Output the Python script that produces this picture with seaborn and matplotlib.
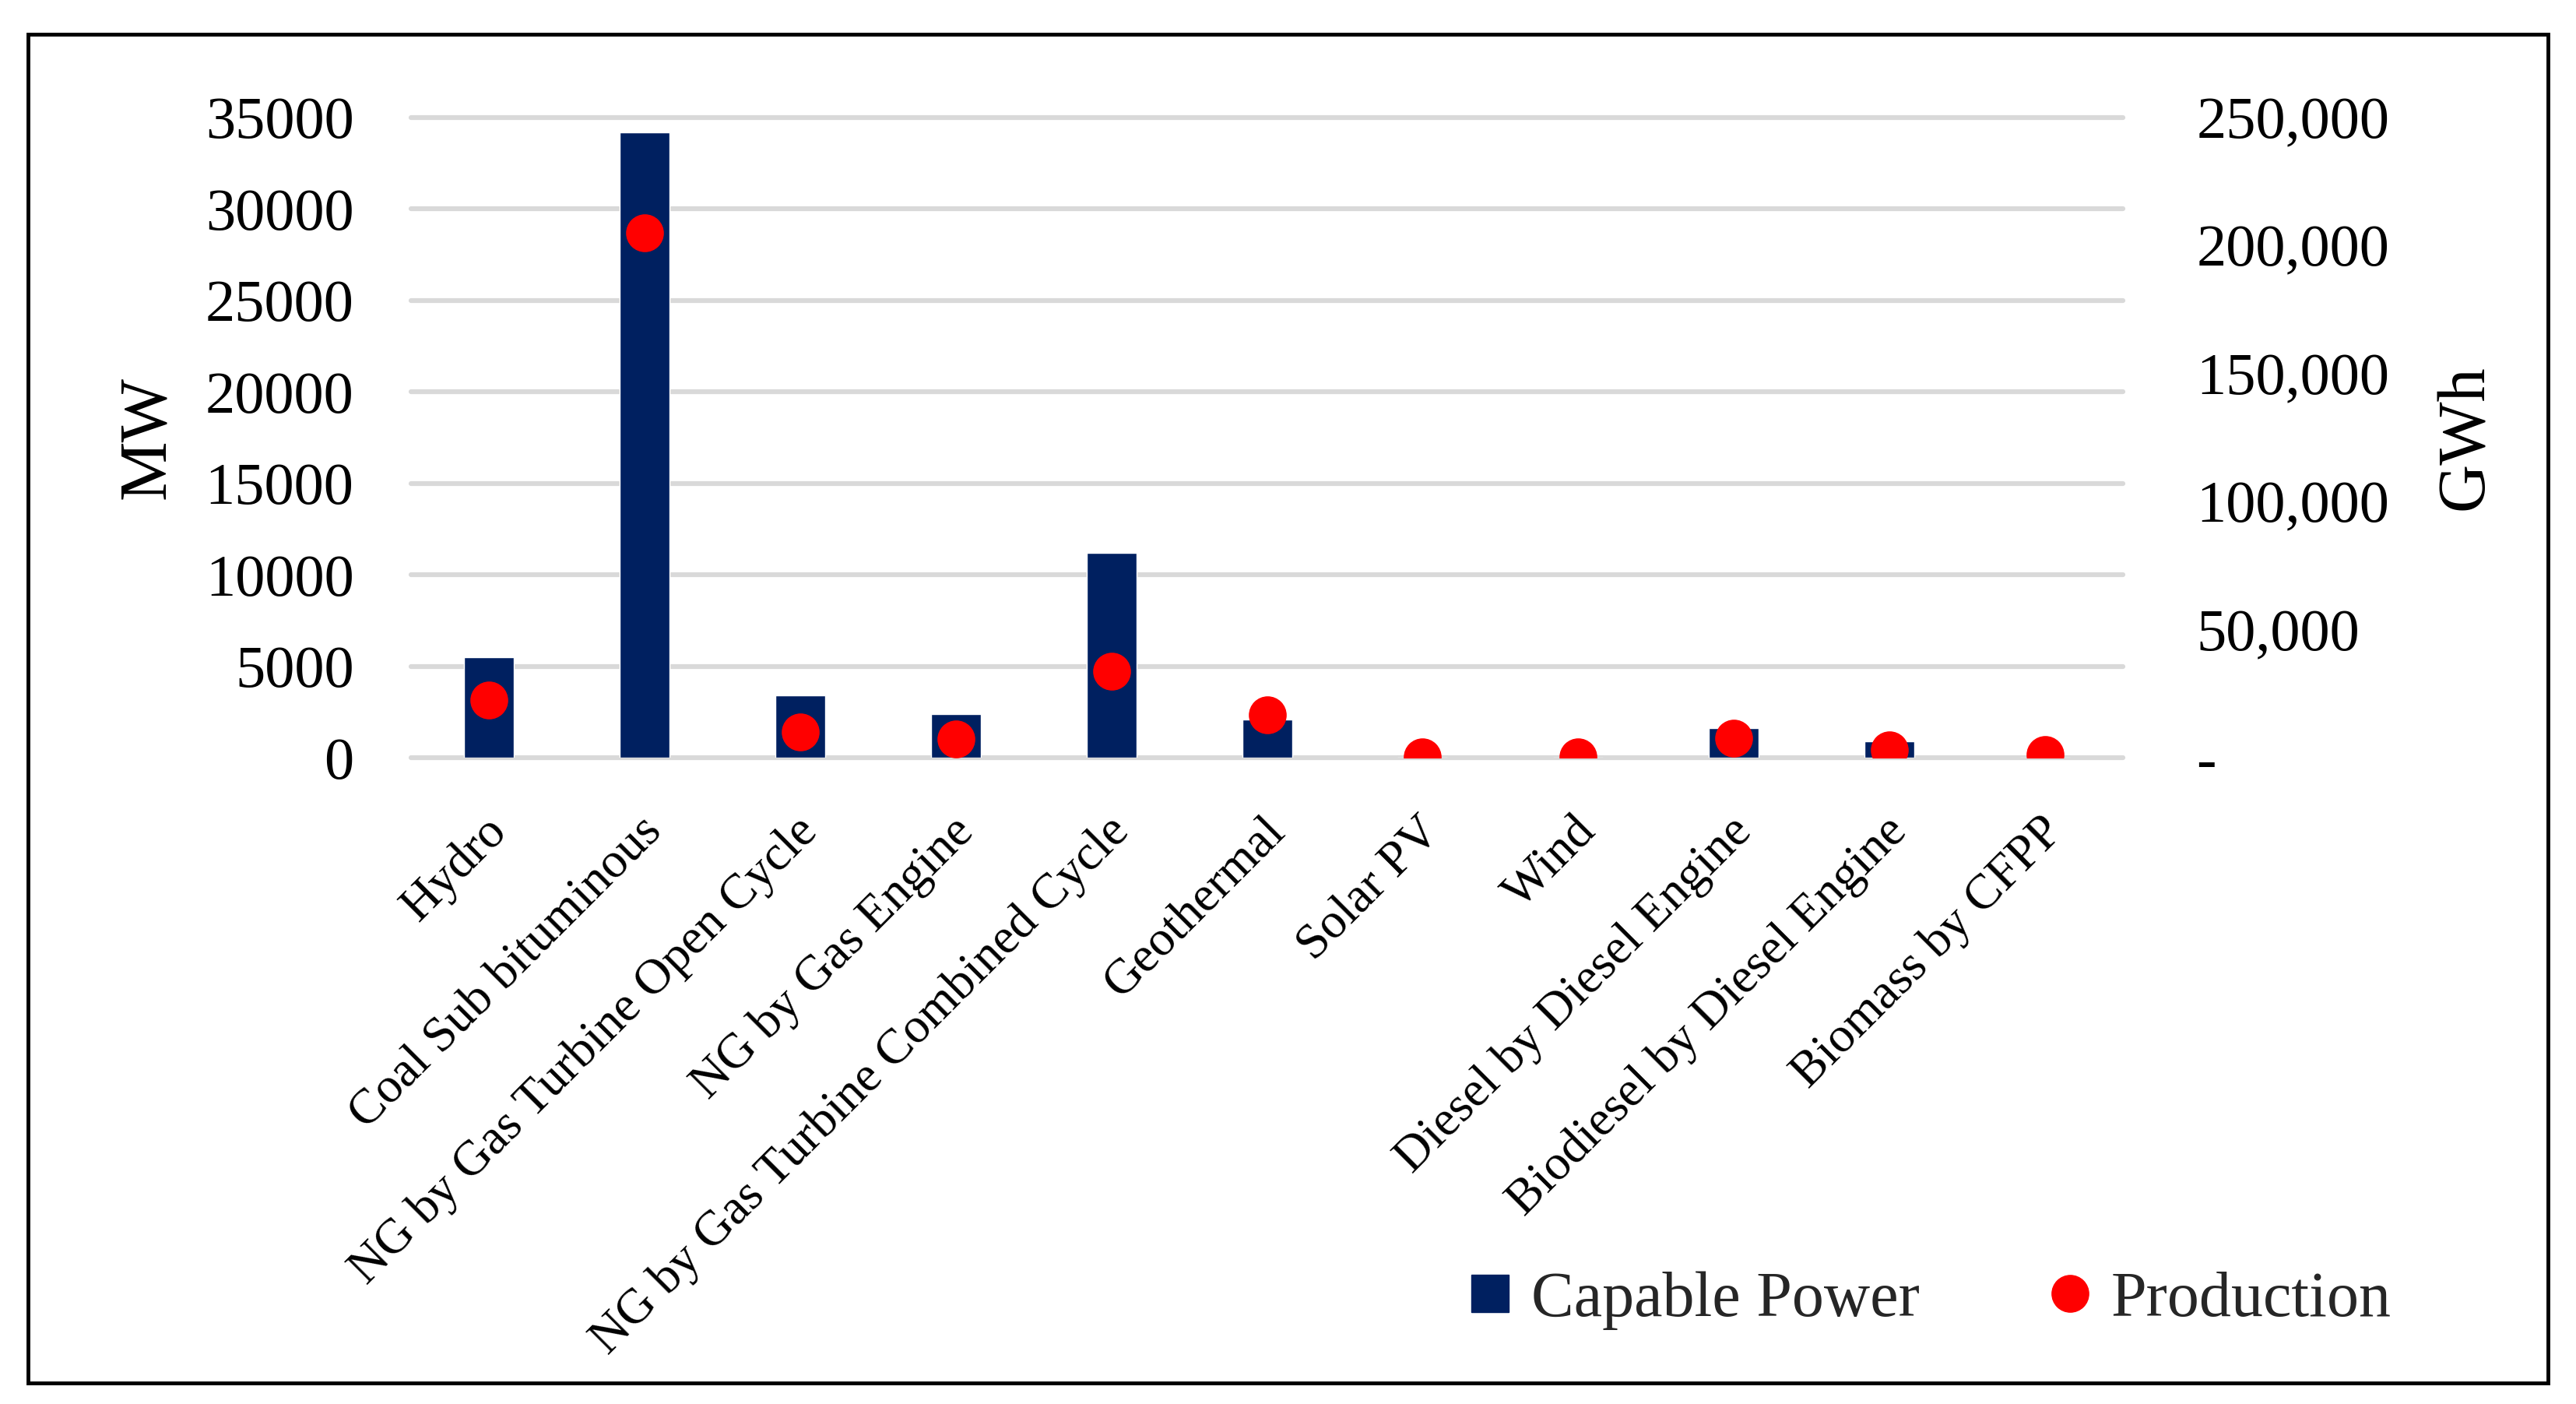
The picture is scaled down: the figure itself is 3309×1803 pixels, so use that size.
import matplotlib.pyplot as plt
import matplotlib.patches as mpatches
from matplotlib.lines import Line2D
from matplotlib.ticker import FuncFormatter
from matplotlib.transforms import ScaledTranslation
import pandas as pd
import seaborn as sns


CATEGORIES = [
    "Hydro",
    "Coal Sub bituminous",
    "NG by Gas Turbine Open Cycle",
    "NG by Gas Engine",
    "NG by Gas Turbine Combined Cycle",
    "Geothermal",
    "Solar PV",
    "Wind",
    "Diesel by Diesel Engine",
    "Biodiesel by Diesel Engine",
    "Biomass by CFPP",
]
CAPABLE_POWER_MW = [5500, 34200, 3400, 2400, 11200, 2100, 0, 0, 1630, 900, 0]
PRODUCTION_GWH = [22400, 205000, 10100, 7200, 33900, 16700, 200, 400, 7500, 3200, 1100]

MW_TICKS = [0, 5000, 10000, 15000, 20000, 25000, 30000, 35000]
GWH_TICKS = [0, 50000, 100000, 150000, 200000, 250000]

BAR_COLOR = "#002060"
DOT_COLOR = "#FF0000"
GRID_COLOR = "#D9D9D9"


def gwh_label(v, pos):
    return "-" if v == 0 else f"{v:,.0f}"


sns.set_theme(style="white")
plt.rcParams["font.family"] = ["Liberation Serif", "DejaVu Serif"]

df = pd.DataFrame({"source": CATEGORIES, "mw": CAPABLE_POWER_MW, "gwh": PRODUCTION_GWH})

fig = plt.figure(figsize=(33.09, 18.03), dpi=100)
ax = fig.add_axes([0.1596, 0.4603, 0.6645, 0.456])

sns.barplot(data=df, x="source", y="mw", color=BAR_COLOR, saturation=1, width=0.32, ax=ax)
ax.set_ylim(0, 35000)
ax.set_yticks(MW_TICKS)
ax.set_axisbelow(True)
ax.yaxis.grid(True, color=GRID_COLOR, linewidth=4.5)
ax.xaxis.grid(False)
for line in ax.get_ygridlines():
    line.set_clip_on(False)
for s in ax.spines.values():
    s.set_visible(False)

ax2 = ax.twinx()
sns.stripplot(data=df, x="source", y="gwh", jitter=False, color=DOT_COLOR, size=35, linewidth=0, ax=ax2)
ax2.set_ylim(0, 250000)
ax2.set_yticks(GWH_TICKS)
ax2.yaxis.set_major_formatter(FuncFormatter(gwh_label))
ax2.grid(False)
for s in ax2.spines.values():
    s.set_visible(False)

ax.set_xlim(-0.5, len(CATEGORIES) - 0.5)
ax2.set_xlim(-0.5, len(CATEGORIES) - 0.5)

ax.set_xticks(range(len(CATEGORIES)))
ax.set_xticklabels(CATEGORIES, rotation=45, ha="right", va="center", rotation_mode="anchor")
ax.tick_params(axis="x", length=0, pad=62, labelsize=46, colors="black")
ax.tick_params(axis="y", length=0, pad=53, labelsize=55, colors="black")
ax2.tick_params(axis="y", length=0, pad=68, labelsize=55, colors="black")
ax2.tick_params(axis="x", length=0)
shift = ScaledTranslation(10 / 72, 0, fig.dpi_scale_trans)
for lbl in ax.get_xticklabels():
    lbl.set_transform(lbl.get_transform() + shift)

ax.set_xlabel("")
ax.set_ylabel("MW", fontsize=62, color="black")
ax.yaxis.label.set_va("center")
ax.yaxis.set_label_coords(-0.1537, 0.5)
ax2.set_xlabel("")
ax2.set_ylabel("GWh", fontsize=62, color="black")
ax2.yaxis.label.set_va("center")
ax2.yaxis.set_label_coords(1.2005, 0.5)

handles = [
    Line2D([], [], marker="s", ls="", color=BAR_COLOR, markersize=34, label="Capable Power"),
    Line2D([], [], marker="o", ls="", color=DOT_COLOR, markersize=34, label="Production"),
]
fig.legend(handles=handles, loc="center", bbox_to_anchor=(0.749, 0.0738), ncol=2, frameon=False,
           fontsize=59, handlelength=0.7, handletextpad=0.3, columnspacing=2.0)

fig.patches.append(mpatches.Rectangle((0.0109, 0.0150), 0.9782, 0.9606, transform=fig.transFigure,
                                      fill=False, edgecolor="black", linewidth=3.5))

fig.savefig("out.png", dpi=100)
plt.close(fig)
